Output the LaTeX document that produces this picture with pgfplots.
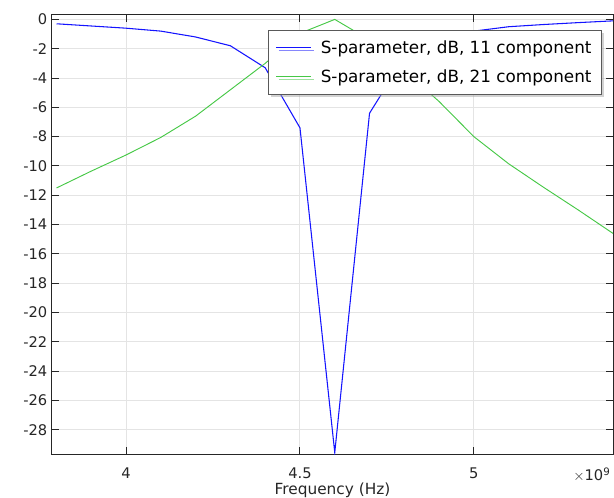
\documentclass[border=0pt]{standalone}
\usepackage{fontspec}
\setmainfont{DejaVu Sans}
\usepackage{pgfplots}
\pgfplotsset{compat=1.18}
\usetikzlibrary{shadows}
\definecolor{sblue}{RGB}{20,20,255}
\definecolor{sgreen}{RGB}{70,200,70}
\definecolor{gridgray}{RGB}{228,228,228}

\begin{document}
\begin{tikzpicture}
\begin{axis}[
    scale only axis,
    width=420.75pt, height=329.25pt,
    xmin=3.787, xmax=5.4,
    ymin=-29.65, ymax=0.3,
    xtick={4,4.5,5}, xticklabels={4,4.5,5},
    ytick={-28,-26,...,0},
    scaled ticks=false,
    /pgf/number format/assume math mode=true,
    tick align=inside, tick pos=both,
    major tick length=5.5pt,
    grid=major,
    major grid style={gridgray, line width=0.75pt},
    axis line style={black!85, line width=0.75pt},
    tick style={black!85, line width=0.75pt},
    tick label style={font=\fontsize{11}{13}\selectfont, text=black!85},
    xticklabel style={yshift=-7pt},
    xlabel={Frequency (Hz)},
    xlabel style={font=\fontsize{11.5}{13}\selectfont, text=black!85,
        at={(axis description cs:0.5,0)}, anchor=center, yshift=-27pt},
    legend style={at={(axis description cs:1,1)}, anchor=north east,
        xshift=-8.25pt, yshift=-11.25pt,
        draw=black!65, line width=0.75pt, fill=white,
        font=\fontsize{12.6}{14}\selectfont,
        cells={anchor=west}, row sep=6.5pt, inner xsep=5.5pt, inner ysep=5.5pt,
        /tikz/every odd column/.append style={column sep=5pt},
        drop shadow={shadow xshift=2pt, shadow yshift=-2pt, fill=black!35}},
    legend image code/.code={\draw[#1] (0pt,0pt) -- (26pt,0pt);},
]

% S11
\addplot[sblue, line width=0.8pt] coordinates {
    (3.8,-0.3) (3.9,-0.45) (4.0,-0.6) (4.1,-0.8) (4.2,-1.2)
    (4.3,-1.8) (4.4,-3.3) (4.5,-7.4) (4.6,-29.55) (4.7,-6.4)
    (4.8,-2.6) (4.9,-1.4) (5.0,-0.8) (5.1,-0.5) (5.2,-0.35)
    (5.3,-0.22) (5.4,-0.1)
};
\addlegendentry{S-parameter, dB, 11 component}

% S21
\addplot[sgreen, line width=0.7pt] coordinates {
    (3.8,-11.5) (3.9,-10.35) (4.0,-9.25) (4.1,-8.05) (4.2,-6.6)
    (4.3,-4.8) (4.4,-3.0) (4.5,-0.95) (4.6,0) (4.7,-1.4)
    (4.8,-3.5) (4.9,-5.6) (5.0,-8.0) (5.1,-9.85) (5.2,-11.45)
    (5.3,-13.0) (5.4,-14.6)
};
\addlegendentry{S-parameter, dB, 21 component}

\end{axis}
\node[anchor=west, font=\fontsize{11}{13}\selectfont, text=black!85, inner sep=0pt]
    at (390.75pt,-15.5pt) {$\times$10\textsuperscript{9}};
\pgfresetboundingbox
\path[use as bounding box] (-39pt,-32.25pt) rectangle (421.5pt,340.5pt);
\end{tikzpicture}
\end{document}
